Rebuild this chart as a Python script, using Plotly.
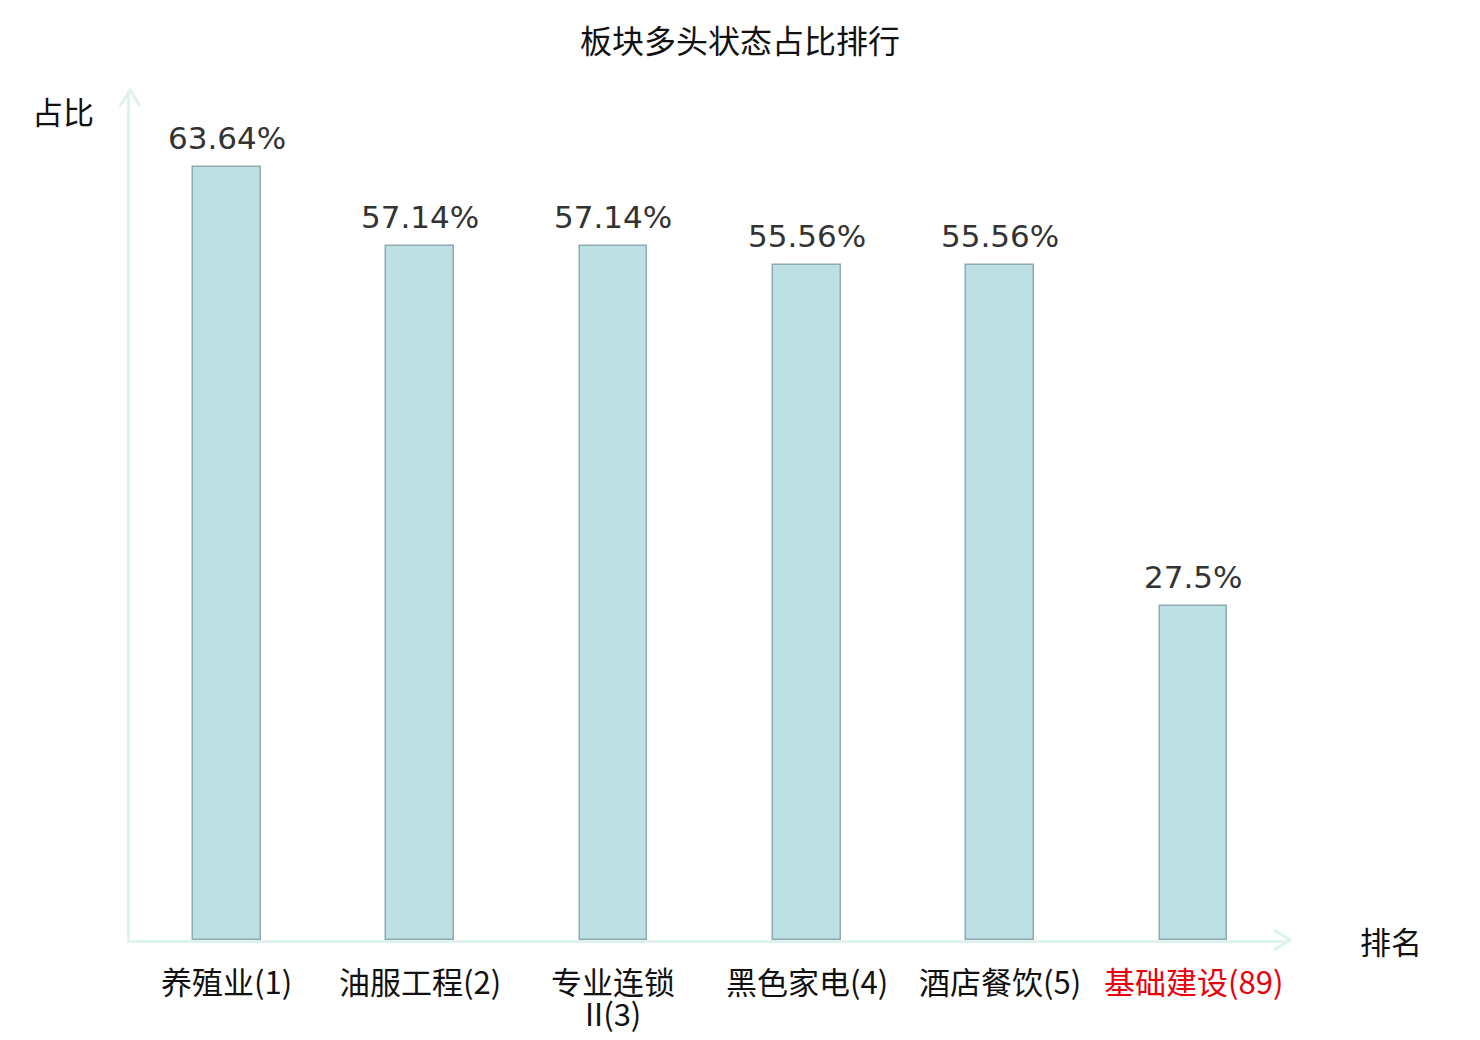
import plotly.graph_objects as go

# sector names with rank, and share of bullish stocks (%)
CATEGORIES = ["养殖业(1)", "油服工程(2)", "专业连锁<br>II(3)", "黑色家电(4)", "酒店餐饮(5)", "基础建设(89)"]
VALUES = [63.64, 57.14, 57.14, 55.56, 55.56, 27.5]
HIGHLIGHT = "基础建设(89)"  # the sector of interest, drawn in red

AXIS_COLOR = "#dff2ef"
CJK = "Noto Sans CJK SC"

fig = go.Figure()
fig.add_trace(
    go.Bar(
        x=CATEGORIES,
        y=VALUES,
        width=0.35,
        marker=dict(color="#bce0e3", line=dict(color="#8fabad", width=1.5)),
        showlegend=False,
        hovertemplate="%{x}: %{y}%<extra></extra>",
    )
)

# value labels floating a little above each bar
for cat, val in zip(CATEGORIES, VALUES):
    fig.add_annotation(
        x=cat, y=val, text=f"{val}%", showarrow=False,
        xanchor="center", yanchor="middle", yshift=29,
        font=dict(family="DejaVu Sans", size=31, color="#333333"),
    )

# category labels under the axis, one annotation per line so wrapped labels stay tight
for cat in CATEGORIES:
    color = "#e8000b" if cat == HIGHLIGHT else "#111111"
    for i, line in enumerate(cat.split("<br>")):
        fig.add_annotation(
            x=cat, y=0, text=line, showarrow=False,
            xanchor="center", yanchor="middle", yshift=-40 - 32 * i,
            font=dict(family=CJK, size=31, color=color),
        )

# the page sits ~8px in from the window corner, margins compensate
fig.update_layout(
    width=1480,
    height=1040,
    margin=dict(l=122, r=198, t=82, b=108),
    plot_bgcolor="white",
    paper_bgcolor="white",
    bargap=0,
    title=dict(
        text="板块多头状态占比排行",
        x=732 / 1480, xref="container", xanchor="center",
        y=1 - 34 / 1040, yref="container", yanchor="middle",
        font=dict(family=CJK, size=32, color="#111111"),
    ),
)
fig.update_xaxes(
    showticklabels=False,
    ticks="",
    showgrid=False,
    zeroline=False,
    showline=True,
    linecolor=AXIS_COLOR,
    linewidth=3,
    automargin=False,
)
fig.update_yaxes(
    range=[0, 70],
    showticklabels=False,
    ticks="",
    showgrid=False,
    zeroline=False,
    showline=True,
    linecolor=AXIS_COLOR,
    linewidth=3,
    automargin=False,
)

# open arrow heads at the ends of both axes
fig.add_shape(
    type="path", xref="paper", yref="paper", xsizemode="pixel", ysizemode="pixel",
    xanchor=0, yanchor=1, path="M -10 -16 L 0 0 L 10 -16",
    line=dict(color=AXIS_COLOR, width=3),
)
fig.add_shape(
    type="path", xref="paper", yref="paper", xsizemode="pixel", ysizemode="pixel",
    xanchor=1, yanchor=0, path="M -16 10 L 0 0 L -16 -10",
    line=dict(color=AXIS_COLOR, width=3),
)

# axis names
fig.add_annotation(text="占比", xref="paper", yref="paper", x=-0.058, y=0.976,
                   xanchor="center", yanchor="middle", showarrow=False,
                   font=dict(family=CJK, size=31, color="#111111"))
fig.add_annotation(text="排名", xref="paper", yref="paper", x=1.087, y=0.0,
                   xanchor="center", yanchor="middle", showarrow=False,
                   font=dict(family=CJK, size=31, color="#111111"))

fig.write_html("out.html")
